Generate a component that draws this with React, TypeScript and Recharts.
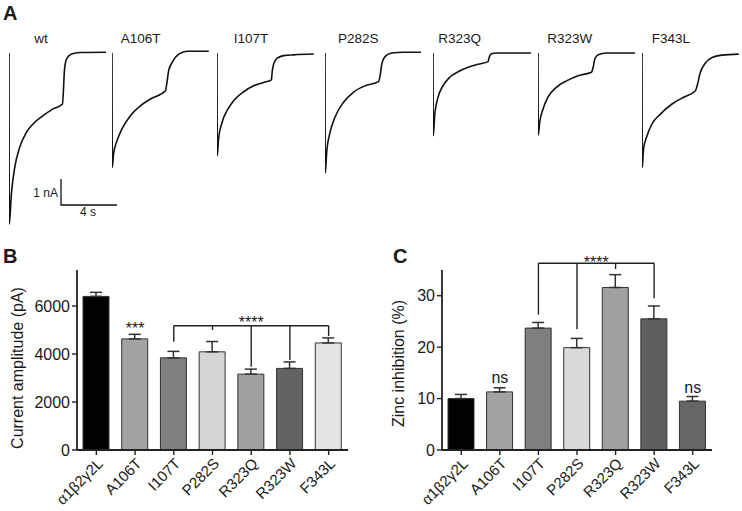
import React from 'react';
import {
  LineChart, Line, BarChart, Bar, XAxis, YAxis, ErrorBar, Cell, ReferenceLine, ReferenceDot,
} from 'recharts';

// ---- panel A: whole-cell current traces, time (s) vs current (nA) ----
const traceNames = ['wt', 'A106T', 'I107T', 'P282S', 'R323Q', 'R323W', 'F343L'];

const wtTrace = [
  [0, 0], [0.02, -6.58], [0.17, -5.42], [0.41, -4.4], [0.76, -3.63], [1.24, -3.05], [1.71, -2.73],
  [2.43, -2.41], [3.14, -2.15], [3.81, -1.96], [3.96, -0.62], [4.1, -0.23], [4.46, -0.04], [5.05, 0.02], [6.91, 0.03],
];
const a106tTrace = [
  [0, 0], [0.02, -4.4], [0.11, -3.88], [0.36, -3.37], [0.71, -2.92], [1.31, -2.41], [2.02, -2.03],
  [2.74, -1.77], [3.81, -1.45], [3.93, -1.08], [4.04, -0.68], [4.29, -0.36], [4.76, -0.04], [5.36, 0.07], [6.9, 0.07],
];
const i107tTrace = [
  [0, 0], [0.02, -3.95], [0.11, -3.31], [0.36, -2.67], [0.71, -2.22], [1.19, -1.83], [1.9, -1.49],
  [2.61, -1.26], [3.33, -1.13], [3.88, -1.03], [3.93, -0.74], [4.04, -0.42], [4.29, -0.2], [4.76, -0.1], [5.48, -0.07], [6.9, -0.04],
];
const p282sTrace = [
  [0, 0], [0.02, -4.62], [0.12, -3.82], [0.36, -3.05], [0.71, -2.47], [1.31, -1.9], [2.02, -1.51],
  [2.86, -1.26], [3.81, -1.1], [3.93, -0.87], [4.05, -0.42], [4.29, -0.13], [4.76, 0], [5.59, 0.03], [6.84, 0.03],
];
const r323qTrace = [
  [0, 0], [0.02, -3.18], [0.12, -2.41], [0.36, -1.7], [0.71, -1.26], [1.19, -0.93], [1.79, -0.72],
  [2.5, -0.55], [3.21, -0.43], [3.93, -0.33], [4.0, -0.17], [4.17, -0.03], [4.53, 0], [6.98, 0],
];
const r323wTrace = [
  [0, 0], [0.02, -3.15], [0.12, -2.67], [0.36, -2.15], [0.71, -1.7], [1.31, -1.32], [2.03, -1.07],
  [2.86, -0.87], [3.81, -0.74], [3.93, -0.55], [4.05, -0.23], [4.29, -0.07], [4.89, 0], [6.91, 0],
];
const f343lTrace = [
  [0, 0], [0.02, -4.4], [0.11, -3.69], [0.36, -3.18], [0.71, -2.73], [1.31, -2.35], [2.14, -1.96],
  [2.97, -1.7], [3.81, -1.45], [3.93, -1.26], [4.16, -0.74], [4.52, -0.38], [5.0, -0.17], [5.71, -0.08], [6.9, -0.04],
];
const traces = [wtTrace, a106tTrace, i107tTrace, p282sTrace, r323qTrace, r323wTrace, f343lTrace];

// scale bar: 1 nA / 4 s
const scaleBar = [[0, 1], [0, 0], [4, 0]];

// ---- panels B and C ----
const variants = ['α1β2γ2L', 'A106T', 'I107T', 'P282S', 'R323Q', 'R323W', 'F343L'];
const amplitudeMean = [6400, 4630, 3840, 4090, 3160, 3400, 4460];
const amplitudeSem = [170, 190, 270, 430, 210, 270, 210];
const amplitudeTicks = [0, 2000, 4000, 6000];
const zincMean = [10.0, 11.3, 23.7, 19.9, 31.6, 25.5, 9.5];
const zincSem = [0.8, 0.8, 1.1, 1.8, 2.5, 2.5, 0.9];
const zincTicks = [0, 10, 20, 30];

// layout / style
const traceLeft = [9.3, 111.7, 216.7, 325, 433.3, 538.3, 641.7];
const nameShift = [25, 9, 17, 13, 5, 9, 10];
const ampColors = ['#000000', '#a2a2a2', '#7f7f7f', '#d6d6d6', '#a0a0a0', '#636363', '#e4e4e4'];
const zincColors = ['#000000', '#a2a2a2', '#7f7f7f', '#d9d9d9', '#a0a0a0', '#5f5f5f', '#666666'];
const FONT = '"Liberation Sans", Arial, sans-serif';
const INK = '#1a1a1a';

const toPoints = (arr: number[][]) => arr.map(([t, i]) => ({ t, i }));

const ampData = variants.map((name, k) => ({ name, mean: amplitudeMean[k], err: [0, amplitudeSem[k]] }));
const zincData = variants.map((name, k) => ({ name, mean: zincMean[k], err: [0, zincSem[k]] }));

const AxisTitle = ({ text, cx, cy }: { text: string; cx: number; cy: number }) => (
  <text
    x={cx}
    y={cy}
    transform={`rotate(-90 ${cx} ${cy})`}
    textAnchor="middle"
    dominantBaseline="central"
    fontSize={16}
    fill={INK}
    fontFamily={FONT}
  >
    {text}
  </text>
);

const Trace = ({ data, left }: { data: number[][]; left: number }) => (
  <div style={{ position: 'absolute', left: left - 2, top: 37 }}>
    <LineChart width={105} height={194} data={toPoints(data)} margin={{ top: 2, right: 2, bottom: 2, left: 2 }}>
      <XAxis type="number" dataKey="t" domain={[0, 7.2]} hide allowDataOverflow />
      <YAxis type="number" domain={[-6.77, 0.54]} hide allowDataOverflow />
      <Line dataKey="i" type="monotoneX" stroke="#111" strokeWidth={1.6} dot={false} isAnimationActive={false} />
    </LineChart>
  </div>
);

const lineStyle = { stroke: '#222', strokeWidth: 1.4 };
const starLabel = { fontSize: 16, fill: INK, fontFamily: FONT };

export default function App() {
  const tickStyle = { fill: INK, fontFamily: FONT };
  return (
    <div style={{ position: 'absolute', left: 0, top: 0, width: 742, height: 511, background: '#fff', overflow: 'hidden' }}>
      {traces.map((d, k) => (
        <Trace key={traceNames[k]} data={d} left={traceLeft[k]} />
      ))}

      <div style={{ position: 'absolute', left: 59, top: 177 }}>
        <LineChart width={60} height={30} data={toPoints(scaleBar)} margin={{ top: 2, right: 2, bottom: 2, left: 2 }}>
          <XAxis type="number" dataKey="t" domain={[0, 4]} hide />
          <YAxis type="number" domain={[0, 1]} hide />
          <Line dataKey="i" type="linear" stroke="#111" strokeWidth={1.3} dot={false} isAnimationActive={false} />
        </LineChart>
      </div>

      {/* panel B */}
      <div style={{ position: 'absolute', left: 0, top: 240 }}>
        <BarChart width={360} height={271} data={ampData} margin={{ top: 30, right: 12, bottom: 1, left: 0 }}>
          <XAxis
            dataKey="name"
            interval={0}
            angle={-45}
            textAnchor="end"
            height={60}
            tickSize={5}
            tick={{ ...tickStyle, fontSize: 15 }}
            axisLine={{ stroke: '#222', strokeWidth: 1.8 }}
            tickLine={{ stroke: '#222', strokeWidth: 1.4 }}
          />
          <YAxis
            width={77}
            domain={[0, 7500]}
            ticks={amplitudeTicks}
            tickSize={5}
            tickMargin={2}
            tick={{ ...tickStyle, fontSize: 16 }}
            axisLine={{ stroke: '#222', strokeWidth: 1.8 }}
            tickLine={{ stroke: '#222', strokeWidth: 1.4 }}
            label={<AxisTitle text="Current amplitude (pA)" cx={17} cy={128} />}
          />
          <Bar dataKey="mean" barSize={26} stroke="#333" strokeWidth={1} isAnimationActive={false}>
            {ampData.map((d, k) => (
              <Cell key={d.name} fill={ampColors[k]} />
            ))}
            <ErrorBar dataKey="err" width={6} stroke="#333" strokeWidth={1.5} direction="y" />
          </Bar>
          <ReferenceLine
            segment={[{ x: 'I107T', y: 5180 }, { x: 'F343L', y: 5180 }]}
            {...lineStyle}
            label={{ value: '****', position: 'top', offset: -2, ...starLabel }}
          />
          <ReferenceLine segment={[{ x: 'I107T', y: 5180 }, { x: 'I107T', y: 4510 }]} {...lineStyle} />
          <ReferenceLine segment={[{ x: 'P282S', y: 5180 }, { x: 'P282S', y: 5000 }]} {...lineStyle} />
          <ReferenceLine segment={[{ x: 'R323Q', y: 5180 }, { x: 'R323Q', y: 3470 }]} {...lineStyle} />
          <ReferenceLine segment={[{ x: 'R323W', y: 5180 }, { x: 'R323W', y: 3750 }]} {...lineStyle} />
          <ReferenceLine segment={[{ x: 'F343L', y: 5180 }, { x: 'F343L', y: 4750 }]} {...lineStyle} />
          <ReferenceDot
            x="A106T"
            y={4830}
            r={0}
            fill="none"
            stroke="none"
            label={{ value: '***', position: 'top', offset: 0, ...starLabel }}
          />
        </BarChart>
      </div>

      {/* panel C */}
      <div style={{ position: 'absolute', left: 370, top: 240 }}>
        <BarChart width={372} height={271} data={zincData} margin={{ top: 30, right: 30, bottom: 1, left: 0 }}>
          <XAxis
            dataKey="name"
            interval={0}
            angle={-45}
            textAnchor="end"
            height={60}
            tickSize={5}
            tick={{ ...tickStyle, fontSize: 15 }}
            axisLine={{ stroke: '#222', strokeWidth: 1.8 }}
            tickLine={{ stroke: '#222', strokeWidth: 1.4 }}
          />
          <YAxis
            width={72}
            domain={[0, 35]}
            ticks={zincTicks}
            tickSize={5}
            tickMargin={2}
            tick={{ ...tickStyle, fontSize: 16 }}
            axisLine={{ stroke: '#222', strokeWidth: 1.8 }}
            tickLine={{ stroke: '#222', strokeWidth: 1.4 }}
            label={<AxisTitle text="Zinc inhibition (%)" cx={28.5} cy={123.5} />}
          />
          <Bar dataKey="mean" barSize={26} stroke="#333" strokeWidth={1} isAnimationActive={false}>
            {zincData.map((d, k) => (
              <Cell key={d.name} fill={zincColors[k]} />
            ))}
            <ErrorBar dataKey="err" width={6} stroke="#333" strokeWidth={1.5} direction="y" />
          </Bar>
          <ReferenceLine
            ifOverflow="visible"
            segment={[{ x: 'I107T', y: 36.3 }, { x: 'R323W', y: 36.3 }]}
            {...lineStyle}
            label={{ value: '****', position: 'top', offset: -5, ...starLabel }}
          />
          <ReferenceLine ifOverflow="visible" segment={[{ x: 'I107T', y: 36.3 }, { x: 'I107T', y: 26.3 }]} {...lineStyle} />
          <ReferenceLine ifOverflow="visible" segment={[{ x: 'P282S', y: 36.3 }, { x: 'P282S', y: 23.5 }]} {...lineStyle} />
          <ReferenceLine ifOverflow="visible" segment={[{ x: 'R323Q', y: 36.3 }, { x: 'R323Q', y: 35.2 }]} {...lineStyle} />
          <ReferenceLine ifOverflow="visible" segment={[{ x: 'R323W', y: 36.3 }, { x: 'R323W', y: 29.5 }]} {...lineStyle} />
          <ReferenceDot
            x="A106T"
            y={13.0}
            r={0}
            fill="none"
            stroke="none"
            label={{ value: 'ns', position: 'top', offset: 0, ...starLabel }}
          />
          <ReferenceDot
            x="F343L"
            y={11.1}
            r={0}
            fill="none"
            stroke="none"
            label={{ value: 'ns', position: 'top', offset: 0, ...starLabel }}
          />
        </BarChart>
      </div>

      {/* text overlay: panel letters, trace names, scale bar labels */}
      <svg width={742} height={511} style={{ position: 'absolute', left: 0, top: 0, pointerEvents: 'none' }}>
        <g fontFamily={FONT} fill={INK}>
          <text x={3} y={20} fontSize={20} fontWeight="bold">A</text>
          <text x={3} y={263} fontSize={20} fontWeight="bold">B</text>
          <text x={393} y={263} fontSize={20} fontWeight="bold">C</text>
          {traceNames.map((n, k) => (
            <text key={n} x={traceLeft[k] + nameShift[k]} y={42.7} fontSize={13.5}>{n}</text>
          ))}
          <text x={58} y={197} fontSize={12} textAnchor="end">1 nA</text>
          <text x={88} y={216} fontSize={12} textAnchor="middle">4 s</text>
        </g>
      </svg>
    </div>
  );
}
